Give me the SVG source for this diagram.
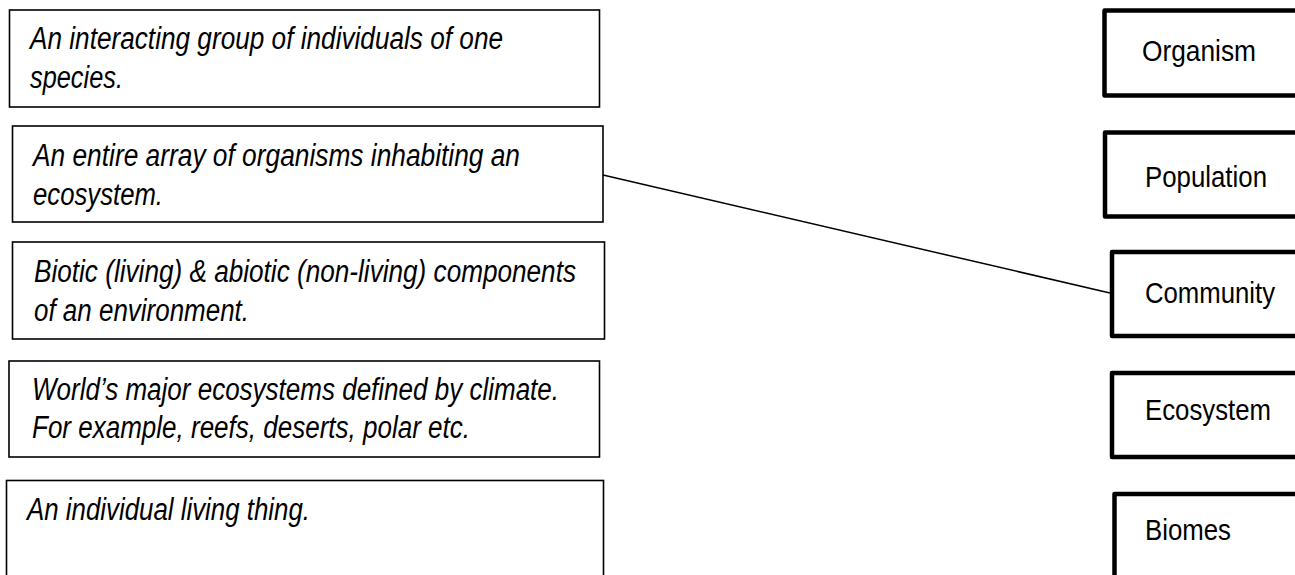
<svg xmlns="http://www.w3.org/2000/svg" width="1295" height="575" viewBox="0 0 1295 575">
  <style>
    .def rect { fill: #fff; stroke: #000; stroke-width: 1.6; }
    .def text { font-family: "Liberation Sans Narrow", "Liberation Sans", Arial, sans-serif; font-style: italic; font-size: 31px; fill: #000; }
    .term rect { fill: #fff; stroke: #000; stroke-width: 4.5; stroke-linejoin: round; }
    .term text { font-family: "Liberation Sans Narrow", "Liberation Sans", Arial, sans-serif; font-size: 30px; fill: #000; }
    .conn line { stroke: #000; stroke-width: 1.5; }
  </style>
  <rect width="1295" height="575" fill="#fff"/>

  <g id="def-population" class="def">
    <rect x="9.5" y="10" width="590" height="97"/>
    <text x="30" y="49" textLength="473" lengthAdjust="spacingAndGlyphs">An interacting group of individuals of one</text>
    <text x="30" y="88" textLength="93" lengthAdjust="spacingAndGlyphs">species.</text>
  </g>
  <g id="def-community" class="def">
    <rect x="12.5" y="126" width="590.5" height="96"/>
    <text x="33" y="166" textLength="487" lengthAdjust="spacingAndGlyphs">An entire array of organisms inhabiting an</text>
    <text x="33" y="205" textLength="130" lengthAdjust="spacingAndGlyphs">ecosystem.</text>
  </g>
  <g id="def-ecosystem" class="def">
    <rect x="12.5" y="242" width="592" height="97"/>
    <text x="34" y="282" textLength="542" lengthAdjust="spacingAndGlyphs">Biotic (living) &amp; abiotic (non-living) components</text>
    <text x="34" y="321" textLength="215" lengthAdjust="spacingAndGlyphs">of an environment.</text>
  </g>
  <g id="def-biomes" class="def">
    <rect x="9" y="361" width="590.5" height="96"/>
    <text x="32" y="400" textLength="527" lengthAdjust="spacingAndGlyphs">World’s major ecosystems defined by climate.</text>
    <text x="32" y="438" textLength="438" lengthAdjust="spacingAndGlyphs">For example, reefs, deserts, polar etc.</text>
  </g>
  <g id="def-organism" class="def">
    <rect x="6.5" y="480.5" width="597" height="110"/>
    <text x="27" y="520" textLength="283" lengthAdjust="spacingAndGlyphs">An individual living thing.</text>
  </g>

  <g id="term-organism" class="term">
    <rect x="1104.5" y="10.5" width="220" height="85"/>
    <text x="1142" y="61" textLength="114" lengthAdjust="spacingAndGlyphs">Organism</text>
  </g>
  <g id="term-population" class="term">
    <rect x="1105" y="132.5" width="220" height="84"/>
    <text x="1145" y="187" textLength="122" lengthAdjust="spacingAndGlyphs">Population</text>
  </g>
  <g id="term-community" class="term">
    <rect x="1112" y="252" width="220" height="84"/>
    <text x="1145" y="303" textLength="130" lengthAdjust="spacingAndGlyphs">Community</text>
  </g>
  <g id="term-ecosystem" class="term">
    <rect x="1112" y="373" width="220" height="84"/>
    <text x="1145" y="420" textLength="126" lengthAdjust="spacingAndGlyphs">Ecosystem</text>
  </g>
  <g id="term-biomes" class="term">
    <rect x="1114.5" y="494" width="220" height="110"/>
    <text x="1145" y="540" textLength="86" lengthAdjust="spacingAndGlyphs">Biomes</text>
  </g>

  <g id="connectors" class="conn">
    <line x1="603" y1="175" x2="1110" y2="293"/>
  </g>
</svg>
